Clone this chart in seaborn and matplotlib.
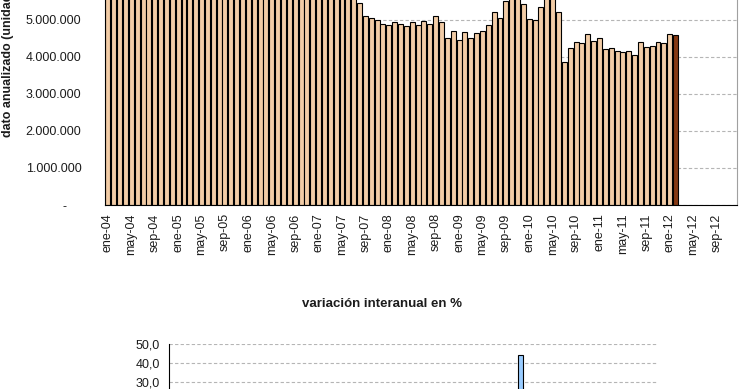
import numpy as np
import pandas as pd
import seaborn as sns
import matplotlib.pyplot as plt

# --- data -------------------------------------------------------------------

# month labels (ene-04 ... dic-12), the category axis of the top chart
meses = ["ene", "feb", "mar", "abr", "may", "jun", "jul", "ago", "sep", "oct", "nov", "dic"]
etiquetas = [f"{m}-{a:02d}" for a in range(4, 13) for m in meses]

# annualised value, millions of units, ene-04 .. feb-12
# (ene-04 .. jul-07 run off the top of the picture, so they are estimates)
valores_mill = [
    5.90, 5.95, 5.98, 6.02, 6.05, 6.08, 6.10, 6.12, 6.15, 6.18, 6.20, 6.22,
    6.25, 6.27, 6.30, 6.32, 6.35, 6.37, 6.38, 6.40, 6.42, 6.43, 6.45, 6.46,
    6.47, 6.48, 6.48, 6.47, 6.45, 6.42, 6.40, 6.35, 6.30, 6.25, 6.20, 6.12,
    6.05, 5.98, 5.90, 5.82, 5.75, 5.68, 5.60, 5.47, 5.10, 5.05, 5.00, 4.90,
    4.86, 4.94, 4.90, 4.84, 4.94, 4.87, 4.96, 4.90, 5.10, 4.94, 4.52, 4.71,
    4.46, 4.68, 4.52, 4.64, 4.71, 4.87, 5.22, 5.05, 5.51, 5.70, 5.62, 5.42,
    5.03, 4.99, 5.34, 5.62, 5.72, 5.21, 3.86, 4.23, 4.40, 4.37, 4.61, 4.42,
    4.52, 4.21, 4.23, 4.17, 4.14, 4.17, 4.05, 4.40, 4.27, 4.30, 4.40, 4.37,
    4.62, 4.59,
]

# year-on-year change in %, ene-06 .. feb-12 (only the 44 % bar is visible,
# the rest are below the crop and are rough estimates)
etiquetas_var = etiquetas[24:]
variacion = [
    3.0, 2.5, 4.0, 1.5, 2.0, 3.5, 1.0, 2.0, 0.5, 1.5, 2.5, 1.0,
    -1.0, 0.5, -2.0, 1.0, -1.5, -3.0, -4.0, -6.0, -10.0, -12.0, -15.0, -18.0,
    -20.0, -22.0, -21.0, -23.0, -19.0, -18.0, -17.0, -12.0, -8.0, -10.0, -14.0, -9.0,
    -12.0, -8.0, -10.0, -6.0, -4.0, 2.0, 8.0, 4.0, 12.0, 16.0, 14.0, 18.0,
    10.0, 8.0, 14.0, 20.0, 22.0, 10.0, -15.0, -8.0, -4.0, -6.0, -2.0, -5.0,
    44.0, -10.0, -8.0, -12.0, -14.0, -10.0, 5.0, 2.0, -3.0, -1.0, 1.0, 0.0,
    3.0, 2.5,
]

# --- styling -----------------------------------------------------------------
sns.set_style("white")
plt.rcParams["font.family"] = ["Liberation Sans", "DejaVu Sans"]
texto = "#1c1c1c"

fig = plt.figure(figsize=(7.4, 3.89), dpi=100)

# top chart: annualised data
n = len(etiquetas)
top = pd.DataFrame({
    "mes": etiquetas,
    "valor": [v * 1e6 for v in valores_mill] + [np.nan] * (n - len(valores_mill)),
    "tipo": ["hist"] * (len(valores_mill) - 1) + ["ultimo"] + ["hist"] * (n - len(valores_mill)),
})

ax1 = fig.add_axes([105 / 740, 184 / 389, 632 / 740, 205 / 389])
sns.barplot(data=top, x="mes", y="valor", hue="tipo", order=etiquetas,
            palette={"hist": "#FFCC99", "ultimo": "#993300"}, dodge=False,
            width=0.85, edgecolor="black", linewidth=0.8, errorbar=None,
            legend=False, ax=ax1)
ax1.set_xlim(-0.5, n - 0.5)
ax1.set_ylim(0, 5.54e6)
ax1.set_xlabel("")
ax1.set_ylabel("")

yt = [0, 1e6, 2e6, 3e6, 4e6, 5e6]
ax1.set_yticks(yt)
ax1.set_yticklabels(["-    "] + [f"{int(v):,}".replace(",", ".") for v in yt[1:]])
ax1.tick_params(axis="y", length=4, width=0.8, pad=13, labelsize=9, colors="black", labelcolor=texto)

pos = list(range(0, n, 4))
ax1.set_xticks(pos)
ax1.set_xticklabels([etiquetas[i] for i in pos], rotation=90)
ax1.tick_params(axis="x", which="major", length=0, pad=6, labelsize=9, labelcolor=texto)
ax1.set_xticks([p - 0.5 for p in pos], minor=True)
ax1.tick_params(axis="x", which="minor", length=4, width=0.8, color="black")

ax1.yaxis.grid(True, color="#b5b5b5", linestyle=(0, (3, 2)), linewidth=0.8)
ax1.set_axisbelow(True)
ax1.spines["top"].set_visible(False)
ax1.spines["left"].set_color("black")
ax1.spines["bottom"].set_color("black")
ax1.spines["right"].set_color("#a0a0a0")

fig.text(8 / 740, 252 / 389, "dato anualizado (unidades)", rotation=90,
         ha="center", va="bottom", fontsize=9, fontweight="bold", color=texto)

# bottom chart: year-on-year change
m = len(etiquetas_var)
bot = pd.DataFrame({
    "mes": etiquetas_var,
    "valor": variacion + [np.nan] * (m - len(variacion)),
})
ax2 = fig.add_axes([168.6 / 740, 0, 488.4 / 740, 45.5 / 389])
sns.barplot(data=bot, x="mes", y="valor", order=etiquetas_var, color="#99CCFF",
            width=0.8, edgecolor="black", linewidth=0.8, errorbar=None, ax=ax2)
for p in ax2.patches:
    p.set_facecolor("#99CCFF")
ax2.set_xlim(-0.5, m - 0.5)
ax2.set_ylim(26.55, 50)
ax2.set_xlabel("")
ax2.set_ylabel("")
ax2.set_xticks([])
ax2.set_yticks([30, 40, 50])
ax2.set_yticklabels(["30,0", "40,0", "50,0"])
ax2.tick_params(axis="y", length=4, width=0.8, pad=2.5, labelsize=9, labelcolor=texto)
ax2.yaxis.grid(True, color="#b5b5b5", linestyle=(0, (3, 2)), linewidth=0.8)
ax2.set_axisbelow(True)
for s in ["top", "right", "bottom"]:
    ax2.spines[s].set_visible(False)
ax2.spines["left"].set_color("black")

fig.text(382 / 740, 85 / 389, "variación interanual en %", ha="center", va="center",
         fontsize=9.5, fontweight="bold", color=texto)

fig.savefig("out.png", dpi=100, facecolor="white")
